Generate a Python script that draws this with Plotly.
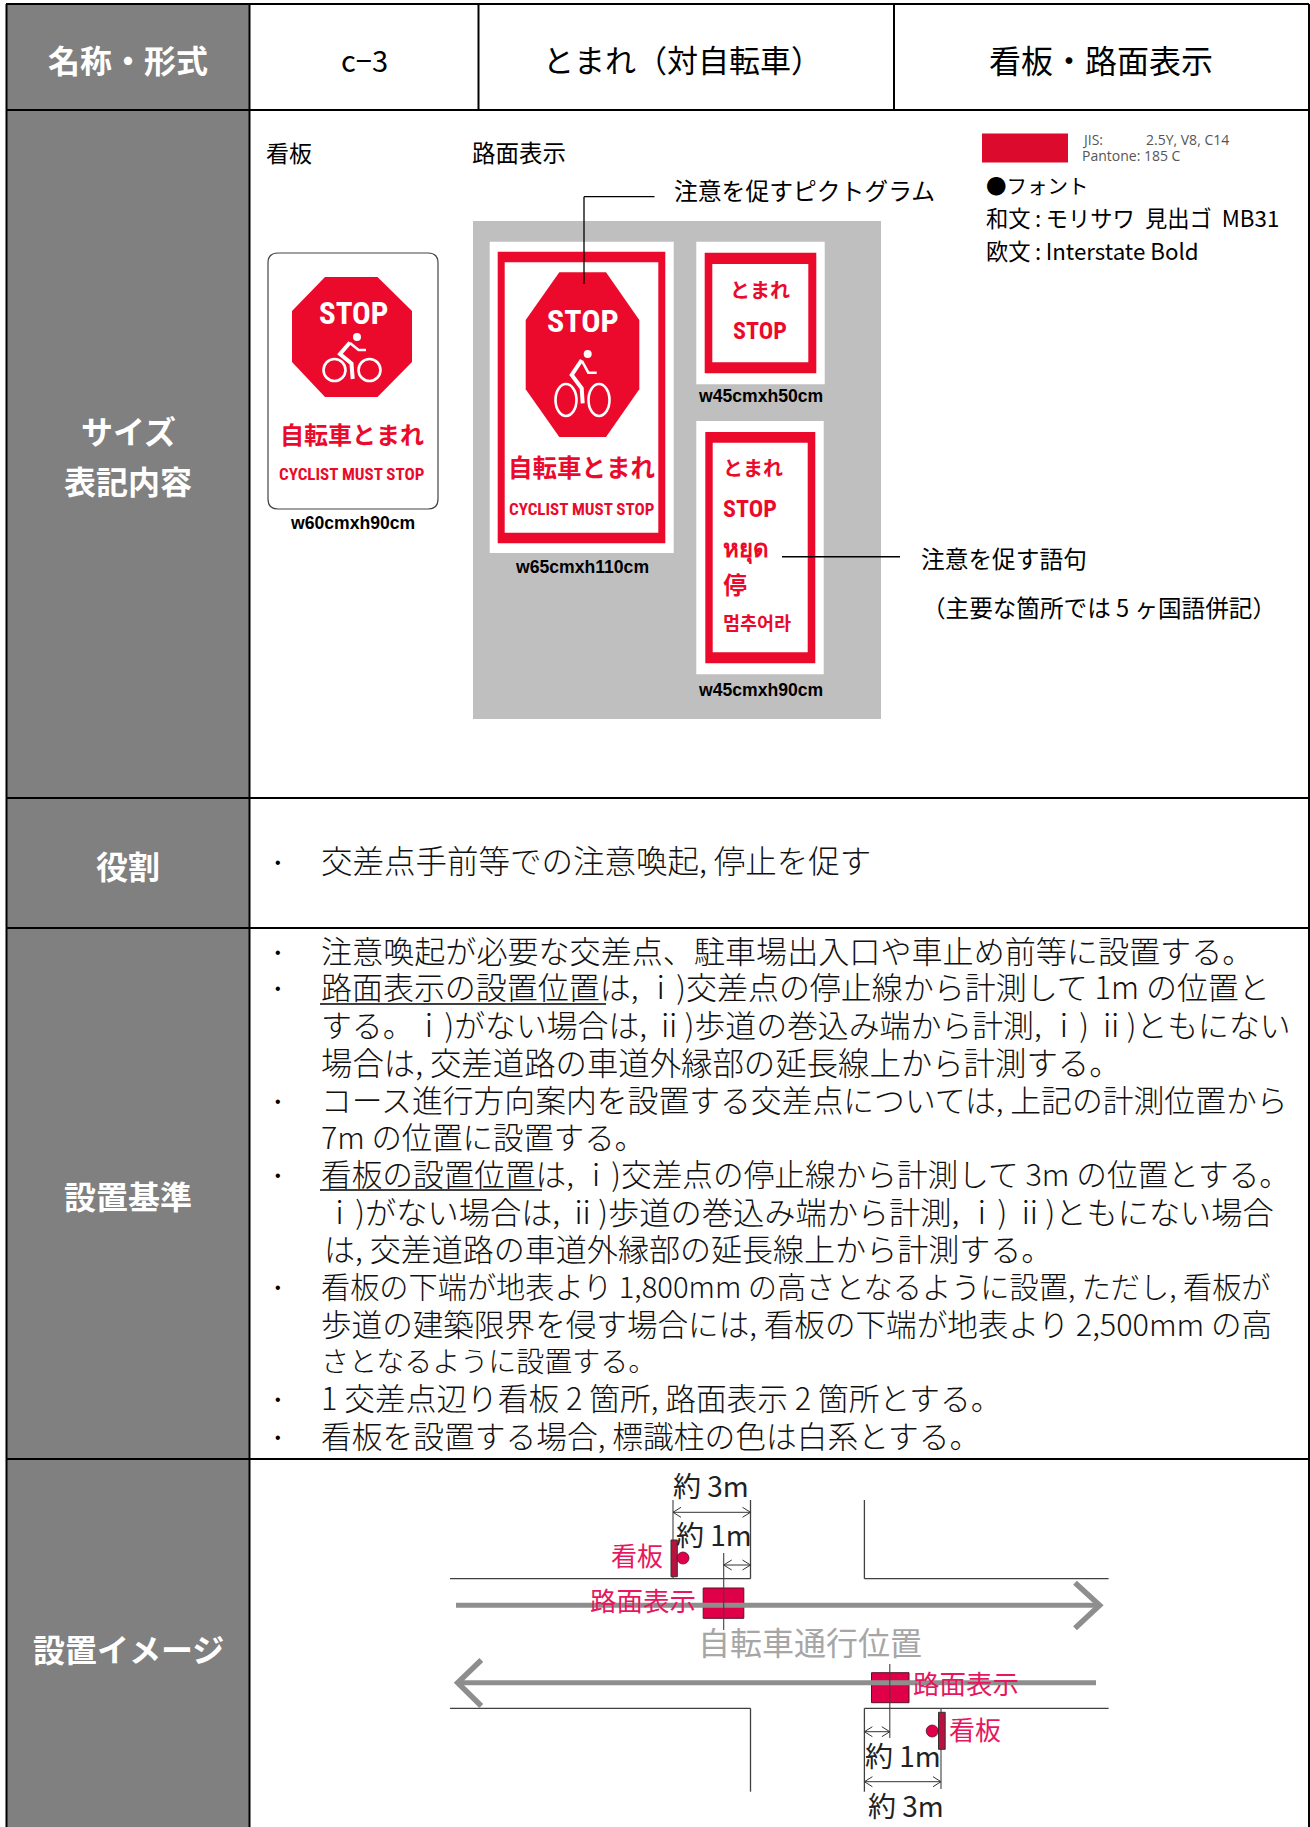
import plotly.graph_objects as go

W, H = 1310, 1827
JP = "Noto Sans CJK JP"
KR = "Noto Sans CJK KR"
SC = "Noto Sans CJK SC"
NARROW = "Noto Sans Condensed, Roboto Condensed, Open Sans Condensed, Lato"
ARIAL = "Liberation Sans"
GREY_CELL = "#808080"
RED = "#EB0A2C"
PINK = "#E6175F"
SQUARE = "#DF0049"
ARROW_GREY = "#8E8E8E"

# ---- text content ----
HEADER_LABEL = "名称・形式"
HEADER_CELLS = ["c−3", "とまれ（対自転車）", "看板・路面表示"]
ROW_LABELS = [["サイズ", "表記内容"], ["役割"], ["設置基準"], ["設置イメージ"]]
ROLE_TEXT = "交差点手前等での注意喚起, 停止を促す"
CRITERIA_LINES = [
    "注意喚起が必要な交差点、駐車場出入口や車止め前等に設置する。",
    "路面表示の設置位置は, ⅰ)交差点の停止線から計測して 1m の位置と",
    "する。ⅰ)がない場合は, ⅱ)歩道の巻込み端から計測, ⅰ) ⅱ)ともにない",
    "場合は, 交差道路の車道外縁部の延長線上から計測する。",
    "コース進行方向案内を設置する交差点については, 上記の計測位置から",
    "7m の位置に設置する。",
    "看板の設置位置は, ⅰ)交差点の停止線から計測して 3m の位置とする。",
    "ⅰ)がない場合は, ⅱ)歩道の巻込み端から計測, ⅰ) ⅱ)ともにない場合",
    "は, 交差道路の車道外縁部の延長線上から計測する。",
    "看板の下端が地表より 1,800mm の高さとなるように設置, ただし, 看板が",
    "歩道の建築限界を侵す場合には, 看板の下端が地表より 2,500mm の高",
    "さとなるように設置する。",
    "1 交差点辺り看板 2 箇所, 路面表示 2 箇所とする。",
    "看板を設置する場合, 標識柱の色は白系とする。",
]
CRITERIA_BULLETED = [0, 1, 4, 6, 9, 12, 13]

# ---- layout measurements of the text block (separate from the content) ----
CRITERIA_Y = [953, 989, 1027, 1065, 1102, 1139, 1176, 1214, 1251, 1288, 1326, 1363, 1400, 1438]
CRITERIA_X0 = [320, 320, 320, 320, 320, 320, 320, 323, 323, 320, 320, 320, 320, 320]
CRITERIA_X1 = [1234, 1271, 1295, 1102, 1291, 625, 1274, 1278, 1034, 1274, 1274, 625, 987, 963]

shapes = []
notes = []


def units(s):
    total = 0.0
    for ch in s:
        if ch == ")":
            total += 0.34
        elif ord(ch) >= 0x2000:
            total += 1.0
        elif ch == " ":
            total += 0.224
        elif ch == "m":
            total += 0.85
        elif ch == ",":
            total += 0.28
        else:
            total += 0.56
    if s.endswith("。"):
        total -= 0.6
    return total


def rect(x0, y0, x1, y1, fill, line=None, lw=0):
    shapes.append(dict(type="rect", x0=x0, y0=y0, x1=x1, y1=y1, fillcolor=fill,
                       line=dict(color=line or fill, width=lw)))


def seg(x0, y0, x1, y1, color="black", lw=2):
    shapes.append(dict(type="line", x0=x0, y0=y0, x1=x1, y1=y1, line=dict(color=color, width=lw)))


def path(d, fill="rgba(0,0,0,0)", color="black", lw=1):
    shapes.append(dict(type="path", path=d, fillcolor=fill, line=dict(color=color, width=lw)))


def ellipse(cx, cy, rx, ry, fill, color=None, lw=0):
    shapes.append(dict(type="circle", x0=cx - rx, x1=cx + rx, y0=cy - ry, y1=cy + ry, fillcolor=fill,
                       line=dict(color=color or fill, width=lw)))


def text(s, x, y, size, color="black", anchor="center", bold=False, family=JP, weight=None):
    if family in (JP, KR, SC):
        y -= 2.5
    notes.append(dict(text=s, x=x, y=y, xref="x", yref="y", showarrow=False, xanchor=anchor, yanchor="middle",
                      borderpad=0,
                      font=dict(size=size, color=color, family=family,
                                weight=weight if weight else (700 if bold else 400))))


def octagon(x0, x1, y0, y1, tx0, tx1, sy0, sy1):
    d = (f"M{tx0},{y0} L{tx1},{y0} L{x1},{sy0} L{x1},{sy1} L{tx1},{y1} L{tx0},{y1} "
         f"L{x0},{sy1} L{x0},{sy0} Z")
    path(d, fill=RED, color=RED, lw=0)


def bike(w1, w2, wy, rx, ry, head, hr, body, arm, lw):
    ellipse(w1, wy, rx, ry, "rgba(0,0,0,0)", "white", 2.6)
    ellipse(w2, wy, rx, ry, "rgba(0,0,0,0)", "white", 2.6)
    ellipse(head[0], head[1], hr, hr, "white")
    path("M" + " L".join(f"{a},{b}" for a, b in body), color="white", lw=lw)
    path("M" + " L".join(f"{a},{b}" for a, b in arm), color="white", lw=lw * 0.65)


def dim(x0, x1, y, color="#333333", lw=1):
    seg(x0, y, x1, y, color, lw)
    path(f"M{x0 + 8},{y - 5} L{x0},{y} L{x0 + 8},{y + 5}", color=color, lw=lw)
    path(f"M{x1 - 8},{y - 5} L{x1},{y} L{x1 - 8},{y + 5}", color=color, lw=lw)


# ---- table ----
rect(7, 4, 249, H, GREY_CELL)
for y in [110, 798, 928, 1459]:
    seg(6, y, 1309, y)
seg(6, 4, 1309, 4)
seg(6.5, 4, 6.5, H)
seg(1309, 4, 1309, H)
seg(249.5, 4, 249.5, H)
seg(478.5, 4, 478.5, 110)
seg(894, 4, 894, 110)

text(HEADER_LABEL, 128, 61, 32, "white", bold=True)
text(HEADER_CELLS[0], 364, 61, 29)
text(HEADER_CELLS[1], 682, 61, 31)
text(HEADER_CELLS[2], 1101, 61, 32)
text(ROW_LABELS[0][0], 128, 432, 32, "white", bold=True)
text(ROW_LABELS[0][1], 128, 482, 32, "white", bold=True)
text(ROW_LABELS[1][0], 128, 867, 32, "white", bold=True)
text(ROW_LABELS[2][0], 128, 1197, 32, "white", bold=True)
text(ROW_LABELS[3][0], 128, 1650, 32, "white", bold=True)

# ---- row 2: signs ----
text("看板", 265, 154, 23, anchor="left")
text("路面表示", 471, 154, 23.5, anchor="left")

path("M278,253 L428,253 Q438,253 438,263 L438,499 Q438,509 428,509 L278,509 Q268,509 268,499 L268,263 Q268,253 278,253 Z",
     fill="white", color="#444444", lw=1.2)
octagon(292, 412, 277, 397, 325, 377.5, 311, 362)
text("STOP", 353, 313, 31, "white", bold=True, family=NARROW)
bike(334.5, 369.5, 370, 11, 11, (357, 337), 4, [(350, 342.5), (340, 354), (351.5, 363.5), (352.7, 379)],
     [(350, 343), (358.6, 350), (366, 350)], 4)
text("自転車とまれ", 352, 436, 24, RED, bold=True)
text("CYCLIST MUST STOP", 352, 474, 17, RED, bold=True, family=NARROW)
text("w60cmxh90cm", 352.5, 522.5, 17.6, bold=True, family=ARIAL)

rect(473, 221, 881, 719, "#BFBFBF")
rect(489.7, 241.7, 673.7, 553, "white")
rect(497.7, 251.7, 665.3, 543.3, RED)
rect(504.7, 262.3, 658.3, 532.7, "white")
octagon(525.7, 639.3, 272.3, 437, 559.3, 606, 320, 389.3)
text("STOP", 583, 321, 32, "white", bold=True, family=NARROW)
bike(566, 599, 400, 10.5, 16, (587.7, 354), 4, [(581.7, 360), (571.7, 375), (581.7, 388.3), (582.7, 403.3)],
     [(582, 361), (588.3, 372.7), (596.7, 372.7)], 4)
text("自転車とまれ", 581.7, 469, 24.5, RED, bold=True)
text("CYCLIST MUST STOP", 581.7, 509, 17, RED, bold=True, family=NARROW)
text("w65cmxh110cm", 581.7, 567, 17.6, bold=True, family=ARIAL)

rect(696.3, 241.7, 824.7, 384.3, "white")
rect(704.7, 252.7, 816.3, 373.3, RED)
rect(712.3, 264, 808.3, 362.3, "white")
text("とまれ", 760, 291.7, 20, RED, bold=True)
text("STOP", 760, 331, 24, RED, bold=True, family=NARROW)
text("w45cmxh50cm", 760, 396.2, 17.6, bold=True, family=ARIAL)

rect(696.3, 421, 823.7, 674.3, "white")
rect(705.3, 432, 815.3, 663.3, RED)
rect(712.7, 442.7, 807.7, 652.3, "white")
text("とまれ", 722, 470, 20, RED, anchor="left", bold=True)
text("STOP", 722, 508.7, 24, RED, anchor="left", bold=True, family=NARROW)
text("หยุด", 722, 548, 24, RED, anchor="left", bold=True, family="Noto Sans, DejaVu Sans")
text("停", 722, 586, 24, RED, anchor="left", bold=True, family=SC)
text("멈추어라", 722, 624, 18.5, RED, anchor="left", bold=True, family=KR)
text("w45cmxh90cm", 760, 689.5, 17.6, bold=True, family=ARIAL)

seg(654.5, 196.7, 584, 196.7, "black", 1.3)
seg(584, 196.7, 584, 284, "black", 1.3)
seg(782, 556.7, 900, 556.7, "black", 1.6)
text("注意を促すピクトグラム", 673, 192, 23.8, anchor="left")
text("注意を促す語句", 920, 560, 23.7, anchor="left")
text("（主要な箇所では 5 ヶ国語併記）", 921, 609, 23.6, anchor="left")

rect(982, 133.5, 1068, 162.5, "#DC0A2C")
text("JIS:", 1081, 139, 14, "#555555", anchor="left", family="Open Sans")
text("2.5Y, V8, C14", 1145, 139, 14, "#555555", anchor="left", family="Open Sans")
text("Pantone: 185 C", 1081, 155.5, 14, "#555555", anchor="left", family="Open Sans")
text("●フォント", 985, 187, 20.5, anchor="left")
text("和文\u2009:\u2009モリサワ\u00a0\u00a0見出ゴ\u00a0\u00a0MB31", 985, 219, 22.3, anchor="left")
text("欧文\u2009:\u2009Interstate Bold", 985, 252, 22.3, anchor="left")

# ---- row 3: role ----
text("•", 278, 862, 16, family=ARIAL)
text(ROLE_TEXT, 320, 861, 31.5, "#111111", anchor="left", weight=300)

# ---- row 4: criteria ----
for i, line in enumerate(CRITERIA_LINES):
    size = max(28, (CRITERIA_X1[i] - CRITERIA_X0[i]) / units(line))
    text(line, CRITERIA_X0[i], CRITERIA_Y[i] - 1, round(size, 2), "#111111", anchor="left", weight=300)
for i in CRITERIA_BULLETED:
    text("•", 278, CRITERIA_Y[i] - 1, 16, family=ARIAL)
seg(320, 1004, 606, 1004, "black", 1.5)
seg(320, 1190, 542, 1190, "black", 1.5)

# ---- row 5: diagram ----
ROAD = "#404040"
seg(450, 1578.7, 750.5, 1578.7, ROAD, 1.3)
seg(750.5, 1500, 750.5, 1578.7, ROAD, 1.3)
seg(864.4, 1500, 864.4, 1578.7, ROAD, 1.3)
seg(864.4, 1578.7, 1108.6, 1578.7, ROAD, 1.3)
seg(450, 1708.3, 750.5, 1708.3, ROAD, 1.3)
seg(750.5, 1708.3, 750.5, 1791.7, ROAD, 1.3)
seg(864.4, 1708.3, 1108.6, 1708.3, ROAD, 1.3)
seg(864.4, 1708.3, 864.4, 1791.7, ROAD, 1.3)
seg(673, 1500, 673, 1578, ROAD, 1.1)
seg(941, 1708.3, 941, 1789, ROAD, 1.1)

rect(703.2, 1588, 743.8, 1618.3, SQUARE, "#5a1028", 1)
rect(871.5, 1672.7, 909, 1702.7, SQUARE, "#5a1028", 1)

seg(456, 1605.3, 1099.6, 1605.3, ARROW_GREY, 5)
path("M1075,1582.7 L1099.6,1605.3 L1075,1628.3", color=ARROW_GREY, lw=5.5)
seg(1096, 1682.7, 460, 1682.7, ARROW_GREY, 5)
path("M481.3,1660 L457.7,1682.7 L481.3,1706", color=ARROW_GREY, lw=5.5)

seg(723.7, 1553, 723.7, 1630, ROAD, 1.1)
seg(889.8, 1664, 889.8, 1738, ROAD, 1.1)
dim(673, 750.5, 1512.3)
dim(723.7, 750.5, 1565)
dim(864.4, 889.8, 1731.7)
dim(864.4, 941, 1781.7)

rect(671, 1540, 677.3, 1576.7, "#B8123F", "#333333", 1)
ellipse(683, 1558, 6, 6, SQUARE, "#5a1028", 0.8)
rect(938.5, 1712.3, 945.2, 1749.3, "#B8123F", "#333333", 1)
ellipse(932.2, 1731, 6, 6, SQUARE, "#5a1028", 0.8)

text("約 3m", 711, 1487.5, 28, "#222222")
text("約 1m", 714, 1536.5, 28, "#222222")
text("約 1m", 903, 1757.5, 28, "#222222")
text("約 3m", 906, 1807.5, 28, "#222222")
text("看板", 636.7, 1557.3, 26, PINK)
text("路面表示", 643.4, 1602.3, 26.5, PINK)
text("看板", 975, 1731, 26, PINK)
text("路面表示", 966, 1685, 26.5, PINK)
text("自転車通行位置", 810, 1643.3, 32, "#A6A6A6")

fig = go.Figure()
fig.update_layout(
    width=W, height=H, margin=dict(l=0, r=0, t=0, b=0), paper_bgcolor="white", plot_bgcolor="white",
    xaxis=dict(range=[0, W], visible=False, fixedrange=True),
    yaxis=dict(range=[H, 0], visible=False, fixedrange=True),
    shapes=shapes, annotations=notes, showlegend=False,
)
fig.write_html("out.html", post_script="document.body.style.margin='0';", config={"displayModeBar": False})
